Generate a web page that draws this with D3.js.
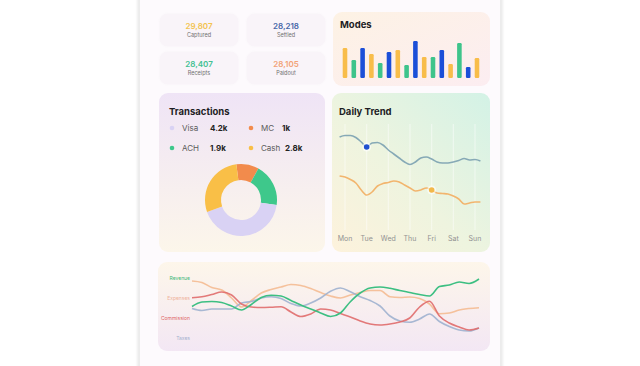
<!DOCTYPE html>
<html>
<head>
<meta charset="utf-8">
<script src="https://cdn.jsdelivr.net/npm/d3@7"></script>
<style>
  html, body { margin: 0; padding: 0; background: #ffffff; }
  svg { display: block; font-family: Inter, "Noto Sans", sans-serif; }
</style>
</head>
<body>
<div id="chart"></div>
<script>
// ---- data ----
const statLabels = ['Captured', 'Settled', 'Receipts', 'Paidout'];
const statValues = [29807, 28218, 28407, 28105];
const statColors = ['#f3c350', '#4767a8', '#44c193', '#f2a277'];

const modeValues = [30, 18, 30, 24, 15, 26, 28, 13, 37, 21, 21, 28, 14, 35, 11, 20];
const modeColors = ['#f8bd4a', '#3ec48b', '#1b4fd8'];

const txnLabels = ['Visa', 'MC', 'ACH', 'Cash'];
const txnValues = [4.2, 1, 1.9, 2.8];
const txnColors = ['#d9d2f4', '#f28b4c', '#3ec88b', '#f9bf47'];
const pieOrder = ['MC', 'ACH', 'Visa', 'Cash'];

const days = ['Mon', 'Tue', 'Wed', 'Thu', 'Fri', 'Sat', 'Sun'];
const trendStep = 0.25; // samples every quarter day, from -0.25
const trendBlue = [78, 79.5, 79.5, 77.5, 73, 68, 72, 72.5, 70, 65, 61, 57, 53, 50.5, 53, 57, 58, 56, 53, 52, 52, 53, 54.5, 56.5, 55, 55.5, 54];
const trendOrange = [39, 38, 35.5, 32, 25, 20, 23, 29, 31.5, 32.5, 34, 33, 30, 27, 24, 25, 27, 25, 22, 21.5, 21, 19, 16, 11, 12, 13, 13];
const blueMarkDay = 'Tue';
const orangeMarkDay = 'Fri';

const seriesNames = ['Revenue', 'Expenses', 'Commission', 'Taxes'];
const revenue = [33.5, 38, 38.5, 37.5, 34, 30, 35.5, 42.5, 44.7, 44, 39.5, 35, 31, 27, 23.5, 27, 38.3, 47, 52, 53, 51.7, 49.5, 47.5, 45.5, 44, 53.5, 55, 58, 56.5, 61];
const expenses = [59, 57.5, 52.5, 50, 42, 33, 39.5, 47, 50.5, 53, 55.5, 54.5, 51.5, 47.5, 44, 42, 45, 47.5, 49.5, 49.5, 43.3, 42.5, 43, 41.5, 36, 26.2, 27, 30, 31.5, 32.3];
const commission = [42.3, 43.2, 45.5, 48, 45, 36, 33, 32.5, 32.8, 33.3, 28, 23.5, 26, 31, 30, 26.5, 23, 19, 16, 15, 16, 18, 22, 33, 38.7, 24, 17, 13, 10, 12];
const taxes = [31.5, 29.5, 31, 31, 31, 37, 38.5, 42, 43.3, 41.5, 36.5, 34, 37, 42, 48.7, 52, 48.3, 43.3, 39.5, 34, 24, 19, 17.7, 21, 26, 18.5, 13.5, 10, 9, 12];
const seriesColors = ['#3cbf82', '#f4bb92', '#e06b6b', '#9fb1cf'];
const labelColors = ['#3cb878', '#efb39c', '#e06565', '#a6b2cf'];

// ---- setup ----
const width = 640, height = 366;
const svg = d3.select('#chart').append('svg')
    .attr('width', width)
    .attr('height', height);
const defs = svg.append('defs');

function grad(id, x1, y1, x2, y2, stops) {
    const g = defs.append('linearGradient').attr('id', id)
        .attr('x1', x1).attr('y1', y1).attr('x2', x2).attr('y2', y2);
    stops.forEach(s => g.append('stop').attr('offset', s[0]).attr('stop-color', s[1]));
}
grad('g-modes', 0, 0, 1, 1, [['0%', '#fdf2e4'], ['100%', '#fcedf1']]);
grad('g-txn', 0, 0, 0, 1, [['0%', '#efe4f6'], ['100%', '#fcf6ea']]);
grad('g-trend', 1, 0, 0, 1, [['0%', '#d3f2e6'], ['55%', '#eef4df'], ['100%', '#fdf2dc']]);
grad('g-bottom', 0, 0, 0, 1, [['0%', '#fdf6ea'], ['100%', '#f3e7f4']]);

const blur = defs.append('filter').attr('id', 'soft');
blur.append('feGaussianBlur').attr('stdDeviation', 1.2);

// phone panel
svg.append('rect').attr('x', 137).attr('y', -5).attr('width', 366).attr('height', 380)
    .attr('fill', '#ececec').attr('filter', 'url(#soft)');
svg.append('rect').attr('x', 140).attr('y', -5).attr('width', 360).attr('height', 380)
    .attr('fill', '#fdfafd');

function card(x, y, w, h, fill) {
    return svg.append('rect').attr('x', x).attr('y', y).attr('width', w).attr('height', h)
        .attr('rx', 9).attr('fill', fill);
}

// ---- stat cards ----
const statPos = [[159, 13], [246, 13], [159, 51], [246, 51]];
statValues.forEach((v, i) => {
    const [x, y] = statPos[i];
    card(x, y, 80, 34, '#f9f4f9').attr('stroke', '#fcf9fc').attr('stroke-width', 1);
    svg.append('text').attr('x', x + 40).attr('y', y + 16)
        .attr('text-anchor', 'middle').style('font-size', '8px').style('font-weight', 600)
        .style('fill', statColors[i]).text(d3.format(',')(v));
    svg.append('text').attr('x', x + 40).attr('y', y + 24)
        .attr('text-anchor', 'middle').style('font-size', '5.5px')
        .style('fill', '#707070').text(statLabels[i]);
});

// ---- modes ----
card(333, 12, 157, 74, 'url(#g-modes)');
svg.append('text').attr('x', 340).attr('y', 28).style('font-size', '9.5px')
    .style('font-weight', 700).style('fill', '#1d1d24').text('Modes');

const xMode = d3.scaleBand().domain(d3.range(modeValues.length))
    .range([340.6, 481.4]).paddingInner(0.48).paddingOuter(0.24);
const yMode = d3.scaleLinear().domain([0, 40]).range([78, 38]);
svg.selectAll('.mode-bar').data(modeValues).enter().append('rect')
    .attr('class', 'mode-bar')
    .attr('x', (d, i) => xMode(i))
    .attr('y', d => yMode(d))
    .attr('width', xMode.bandwidth())
    .attr('height', d => yMode(0) - yMode(d))
    .attr('rx', 1.2)
    .attr('fill', (d, i) => modeColors[i % 3]);

// ---- transactions ----
card(159, 93, 166, 159, 'url(#g-txn)');
svg.append('text').attr('x', 169).attr('y', 115).style('font-size', '9.5px')
    .style('font-weight', 700).style('fill', '#1d1d24').text('Transactions');

const legendPos = [[172, 128], [251, 128], [172, 148], [251, 148]];
const legendValX = [210, 282, 210, 285];
txnLabels.forEach((name, i) => {
    const [x, y] = legendPos[i];
    svg.append('circle').attr('cx', x).attr('cy', y).attr('r', 2.3).attr('fill', txnColors[i]);
    svg.append('text').attr('x', x + 10).attr('y', y + 3).style('font-size', '8px')
        .style('fill', '#5a5a5a').text(name);
    svg.append('text').attr('x', legendValX[i]).attr('y', y + 3).style('font-size', '8px')
        .style('font-weight', 700).style('fill', '#222').text(txnValues[i] + 'k');
});

const pieData = pieOrder.map(n => ({name: n, value: txnValues[txnLabels.indexOf(n)]}));
const pie = d3.pie().sort(null).value(d => d.value)
    .startAngle(-0.13).endAngle(2 * Math.PI - 0.13);
const arc = d3.arc().innerRadius(20).outerRadius(36);
svg.append('g').attr('transform', 'translate(241,200)')
    .selectAll('path').data(pie(pieData)).enter().append('path')
    .attr('d', arc)
    .attr('fill', d => txnColors[txnLabels.indexOf(d.data.name)]);

// ---- daily trend ----
card(332, 93, 158, 159, 'url(#g-trend)');
svg.append('text').attr('x', 339).attr('y', 115).style('font-size', '9.5px')
    .style('font-weight', 700).style('fill', '#1d1d24').text('Daily Trend');

const xDay = d3.scaleLinear().domain([0, days.length - 1]).range([345, 475]);
const yDay = d3.scaleLinear().domain([0, 90]).range([215, 125]);
svg.selectAll('.day-grid').data(days).enter().append('line')
    .attr('class', 'day-grid')
    .attr('x1', (d, i) => xDay(i)).attr('x2', (d, i) => xDay(i))
    .attr('y1', 124).attr('y2', 230)
    .attr('stroke', '#ffffff').attr('stroke-opacity', 0.45).attr('stroke-width', 1.2);
svg.selectAll('.day-label').data(days).enter().append('text')
    .attr('class', 'day-label')
    .attr('x', (d, i) => xDay(i)).attr('y', 241)
    .attr('text-anchor', 'middle').style('font-size', '7px').style('fill', '#929292')
    .text(d => d);

const trendLine = d3.line()
    .x((d, i) => xDay(-0.25 + i * trendStep))
    .y(d => yDay(d))
    .curve(d3.curveMonotoneX);
svg.append('path').attr('d', trendLine(trendBlue)).attr('fill', 'none')
    .attr('stroke', '#86a9b6').attr('stroke-width', 1.6);
svg.append('path').attr('d', trendLine(trendOrange)).attr('fill', 'none')
    .attr('stroke', '#f2b56e').attr('stroke-width', 1.6);

function markAt(dayName, values, color) {
    const di = days.indexOf(dayName);
    const idx = Math.round((di + 0.25) / trendStep);
    svg.append('circle').attr('cx', xDay(di)).attr('cy', yDay(values[idx]))
        .attr('r', 4.5).attr('fill', '#ffffff').attr('fill-opacity', 0.6);
    svg.append('circle').attr('cx', xDay(di)).attr('cy', yDay(values[idx]))
        .attr('r', 2.8).attr('fill', color);
}
markAt(blueMarkDay, trendBlue, '#1f4fd0');
markAt(orangeMarkDay, trendOrange, '#f2b84a');

// ---- bottom multi-line ----
card(158, 262, 332, 89, 'url(#g-bottom)');
const seriesData = [revenue, expenses, commission, taxes];
const xSer = d3.scaleLinear().domain([0, revenue.length - 1]).range([192, 479]);
const ySer = d3.scaleLinear().domain([0, 70]).range([340, 270]);
const ySerLabel = d3.scalePoint().domain(seriesNames).range([278, 338]);

seriesNames.forEach((name, i) => {
    svg.append('text').attr('x', 190).attr('y', ySerLabel(name) + 2)
        .attr('text-anchor', 'end').style('font-size', '5px')
        .style('fill', labelColors[i]).text(name);
});
const serLine = d3.line()
    .x((d, i) => xSer(i))
    .y(d => ySer(d))
    .curve(d3.curveMonotoneX);
// draw expenses & taxes under, revenue & commission on top
[1, 3, 2, 0].forEach(i => {
    svg.append('path').attr('d', serLine(seriesData[i])).attr('fill', 'none')
        .attr('stroke', seriesColors[i]).attr('stroke-width', 1.6)
        .attr('stroke-opacity', i === 0 ? 1 : 0.9);
});
</script>
</body>
</html>
